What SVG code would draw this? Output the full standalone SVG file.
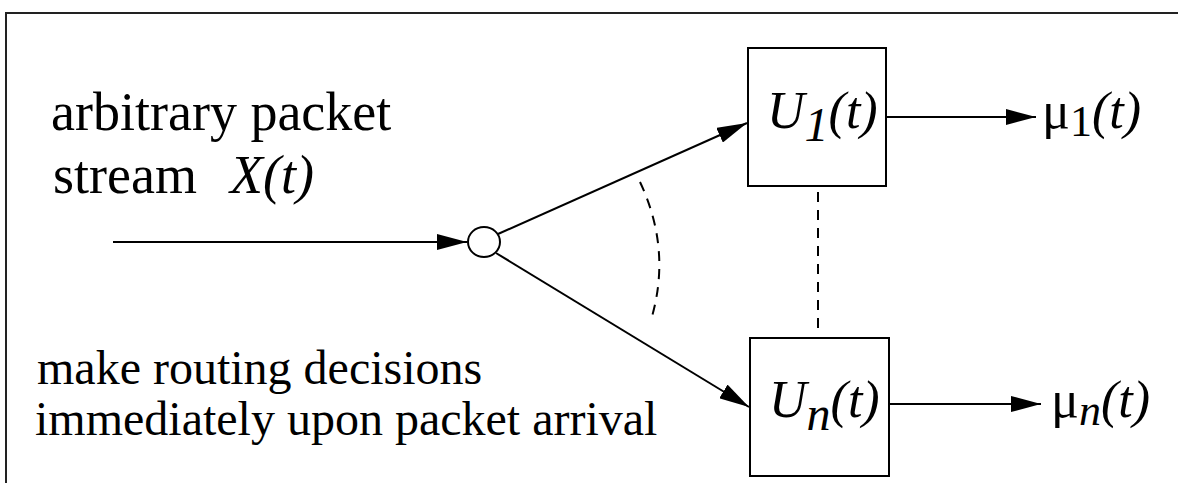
<svg xmlns="http://www.w3.org/2000/svg" width="1178" height="483" viewBox="0 0 1178 483">
  <style>
    .line { stroke: #000; stroke-width: 2; fill: none; }
    .dash { stroke: #000; stroke-width: 2; fill: none; stroke-dasharray: 10 8; }
    .box { stroke: #000; stroke-width: 2; fill: #fff; }
    .lbl { font-size: 54px; }
    .note { font-size: 48px; }
    .math { font-size: 52px; }
    .it { font-style: italic; }
  </style>
  <defs>
    <marker id="arrow" markerUnits="userSpaceOnUse" markerWidth="30" markerHeight="16" refX="30" refY="8" orient="auto">
      <path d="M0,0 L30,8 L0,16 z" fill="#000"/>
    </marker>
  </defs>

  <rect width="1178" height="483" fill="#fff"/>
  <!-- outer frame, open to the right and bottom -->
  <path d="M6,483 L6,13 L1178,13" stroke="#222" stroke-width="2" fill="none"/>

  <g font-family="'Liberation Serif', Tinos, 'Times New Roman', Times, 'DejaVu Serif', serif" fill="#000">
    <!-- input description -->
    <g id="input-label">
      <text class="lbl" x="51" y="130">arbitrary packet</text>
      <text class="lbl" x="53" y="193">stream<tspan class="it" x="230">X(t)</tspan></text>
    </g>
    <g id="routing-note">
      <text class="note" x="37" y="384">make routing decisions</text>
      <text class="note" x="35" y="435">immediately upon packet arrival</text>
    </g>

    <!-- router -->
    <g id="router">
      <ellipse cx="484" cy="242" rx="16" ry="15" stroke="#000" stroke-width="2" fill="#fff"/>
    </g>

    <!-- queues -->
    <g id="queue-1">
      <rect class="box" x="748" y="48" width="138" height="138"/>
      <text class="math it" x="767" y="128">U<tspan dy="13" font-size="48">1</tspan><tspan dy="-13">(t)</tspan></text>
    </g>
    <g id="queue-n">
      <rect class="box" x="750" y="338" width="139" height="138"/>
      <text class="math it" x="769" y="417">U<tspan dy="13" font-size="48">n</tspan><tspan dy="-13">(t)</tspan></text>
    </g>

    <!-- outputs -->
    <g id="output-1">
      <text class="math" x="1042" y="128">μ<tspan dy="8" font-size="44">1</tspan><tspan class="it" dy="-8">(t)</tspan></text>
    </g>
    <g id="output-n">
      <text class="math" x="1051" y="417">μ<tspan class="it" dy="8" font-size="44">n</tspan><tspan class="it" dy="-8">(t)</tspan></text>
    </g>
  </g>

  <!-- connectors -->
  <g id="connectors">
    <line class="line" x1="113" y1="242" x2="467" y2="242" marker-end="url(#arrow)"/>
    <line class="line" x1="498" y1="234" x2="747" y2="123" marker-end="url(#arrow)"/>
    <line class="line" x1="496" y1="253" x2="749" y2="407" marker-end="url(#arrow)"/>
    <line class="line" x1="886" y1="117" x2="1036" y2="117" marker-end="url(#arrow)"/>
    <line class="line" x1="889" y1="404" x2="1041" y2="404" marker-end="url(#arrow)"/>
    <line class="dash" x1="818" y1="192" x2="818" y2="332"/>
    <path class="dash" d="M640,182 Q672,250 651,320"/>
  </g>
</svg>
